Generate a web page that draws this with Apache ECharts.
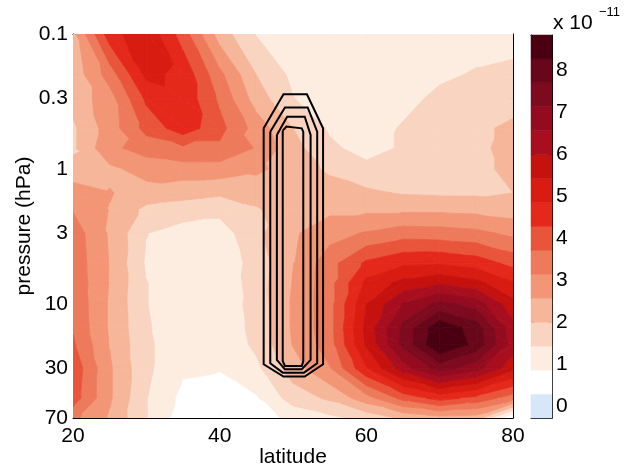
<!DOCTYPE html>
<html>
<head>
<meta charset="utf-8">
<script src="https://cdn.jsdelivr.net/npm/echarts/dist/echarts.min.js"></script>
<style>html,body{margin:0;padding:0;background:#fff}#chart{width:635px;height:470px}</style>
</head>
<body>
<div id="chart"></div>
<script>
// ---------------- data ----------------
const latitudes = [20, 25, 30, 35, 40, 45, 50, 55, 60, 65, 70, 75, 80];
const pressures = [0.1, 0.2, 0.3, 0.5, 0.7, 1, 1.5, 2, 3, 5, 7, 10, 15, 20, 30, 50, 70];

// field values (units of 1e-11), one row per pressure level, columns = latitudes
const row_p0_1 = [2.4, 4.6, 5.3, 4.0, 2.3, 1.4, 1.1, 1.0, 1.0, 1.0, 1.0, 1.1, 1.15];
const row_p0_2 = [2.2, 3.4, 5.0, 4.7, 3.3, 2.0, 1.3, 1.0, 1.0, 1.0, 1.3, 1.5, 1.6];
const row_p0_3 = [2.2, 2.9, 4.4, 4.7, 3.6, 2.3, 1.45, 1.1, 1.0, 1.2, 1.6, 1.7, 1.8];
const row_p0_5 = [1.9, 2.85, 3.9, 4.6, 3.9, 2.9, 2.0, 1.35, 1.1, 1.5, 1.75, 1.9, 2.1];
const row_p0_7 = [1.9, 3.0, 3.4, 3.6, 3.6, 3.1, 2.2, 1.55, 1.2, 1.5, 1.75, 1.9, 2.15];
const row_p1   = [2.2, 2.45, 2.8, 2.9, 2.9, 2.7, 2.3, 1.9, 1.6, 1.7, 1.8, 1.9, 2.1];
const row_p1_5 = [2.85, 2.6, 2.35, 2.2, 2.1, 2.2, 2.3, 2.25, 2.1, 1.95, 1.9, 1.9, 2.0];
const row_p2   = [3.1, 2.55, 1.85, 1.75, 1.6, 1.95, 2.3, 2.45, 2.45, 2.45, 2.45, 2.4, 2.3];
const row_p3   = [3.45, 2.5, 1.45, 1.15, 1.15, 1.85, 2.5, 2.9, 3.2, 3.45, 3.4, 3.3, 3.0];
const row_p5   = [3.5, 2.55, 1.35, 1.0, 1.05, 1.65, 2.55, 3.5, 4.4, 4.75, 4.8, 4.6, 4.1];
const row_p7   = [3.55, 2.55, 1.45, 1.0, 1.0, 1.7, 2.6, 3.5, 5.0, 5.6, 5.9, 5.6, 4.9];
const row_p10  = [3.6, 2.5, 1.45, 1.05, 1.05, 1.65, 2.65, 3.5, 5.4, 6.6, 7.3, 6.9, 5.6];
const row_p15  = [3.65, 2.5, 1.5, 1.05, 1.05, 1.6, 2.65, 3.5, 5.6, 7.3, 8.7, 8.0, 6.2];
const row_p20  = [3.8, 2.55, 1.55, 1.0, 1.0, 1.55, 2.6, 3.45, 5.5, 7.3, 8.85, 8.1, 6.3];
const row_p30  = [4.1, 2.65, 1.55, 0.95, 0.9, 1.3, 2.3, 3.1, 4.8, 6.3, 7.4, 6.8, 5.6];
const row_p50  = [4.0, 2.65, 1.45, 0.7, 0.55, 0.8, 1.7, 2.1, 2.9, 3.9, 4.5, 4.1, 3.4];
const row_p70  = [3.3, 2.5, 1.45, 0.55, 0.5, 0.6, 1.0, 1.3, 1.6, 2.1, 2.4, 2.3, 0.2];
const fieldRows = [row_p0_1, row_p0_2, row_p0_3, row_p0_5, row_p0_7, row_p1, row_p1_5, row_p2,
                   row_p3, row_p5, row_p7, row_p10, row_p15, row_p20, row_p30, row_p50, row_p70];

// contour levels (colorbar band edges) and ticks
const colorLevels = [-0.28, 0.29, 0.86, 1.43, 2.0, 2.57, 3.14, 3.71, 4.28, 4.85, 5.42, 5.99, 6.56, 7.13, 7.70, 8.27, 8.84];
const colorbarTicks = [0, 1, 2, 3, 4, 5, 6, 7, 8];
const yLabelValues = [0.1, 0.3, 1, 3, 10, 30, 70];
const yTickValues = [0.2, 0.3, 0.6, 1, 2, 3, 6, 10, 20, 30, 60];

// black contour lines: [latitude, pressure]
const contour1 = [[46.0, 0.5], [48.7, 0.28], [51.9, 0.28], [54.1, 0.5], [54.1, 28], [51.6, 34.5], [48.7, 34.5], [46.0, 28], [46.0, 0.5]];
const contour2 = [[46.9, 0.53], [48.9, 0.35], [52.0, 0.35], [53.3, 0.53], [53.3, 27.5], [51.5, 32.3], [48.6, 32.3], [46.9, 27.5], [46.9, 0.53]];
const contour3 = [[47.8, 0.56], [49.2, 0.41], [51.6, 0.41], [52.4, 0.56], [52.4, 26], [51.2, 30.5], [48.9, 30.5], [47.8, 26], [47.8, 0.56]];
const contour4 = [[48.6, 0.52], [49.1, 0.485], [51.2, 0.5], [51.4, 0.53], [51.4, 26.5], [51.2, 28.8], [48.9, 28.8], [48.6, 26.5], [48.6, 0.52]];

// ---------------- styles ----------------
const bandColors = ['#d6e8f7', '#ffffff', '#fdede1', '#f9d4c0', '#f6b699', '#f39676', '#ee7a5c', '#e8553b',
                    '#e4281a', '#d91c12', '#c5120f', '#a90e1e', '#940b20', '#7e0a1f', '#68061a', '#4b0012'];
const FONT = "'Liberation Sans', Arial, Helvetica, sans-serif";
const black = '#000';

// ---------------- helpers ----------------
const lg = v => Math.log10(v);
function clipPoly(poly, level, keepAbove) {
  const out = [];
  for (let k = 0; k < poly.length; k++) {
    const a = poly[k], b = poly[(k + 1) % poly.length];
    const ina = keepAbove ? a[2] >= level : a[2] <= level;
    const inb = keepAbove ? b[2] >= level : b[2] <= level;
    if (ina) out.push(a);
    if (ina !== inb) {
      const t = (level - a[2]) / (b[2] - a[2]);
      out.push([a[0] + t * (b[0] - a[0]), a[1] + t * (b[1] - a[1]), level]);
    }
  }
  return out;
}

const cellData = [];
for (let j = 0; j < pressures.length - 1; j++) {
  for (let i = 0; i < latitudes.length - 1; i++) {
    cellData.push([(latitudes[i] + latitudes[i + 1]) / 2, (lg(pressures[j]) + lg(pressures[j + 1])) / 2, i, j]);
  }
}

function renderCell(params, api) {
  const i = api.value(2), j = api.value(3);
  const P = (ii, jj) => [latitudes[ii], lg(pressures[jj]), fieldRows[jj][ii]];
  const A = P(i, j), B = P(i + 1, j), C = P(i + 1, j + 1), D = P(i, j + 1);
  let tris;
  if (Math.abs(A[2] - C[2]) <= Math.abs(B[2] - D[2])) tris = [[A, B, C], [A, C, D]];
  else tris = [[A, B, D], [B, C, D]];
  const children = [];
  const nb = bandColors.length;
  tris.forEach(tri => {
    for (let k = 0; k < nb; k++) {
      let poly = tri;
      if (k > 0) poly = clipPoly(poly, colorLevels[k], true);
      if (poly.length >= 3 && k < nb - 1) poly = clipPoly(poly, colorLevels[k + 1], false);
      if (poly.length >= 3) {
        const pts = poly.map(p => api.coord([p[0], p[1]]));
        children.push({
          type: 'polygon', shape: { points: pts },
          style: { fill: bandColors[k], stroke: bandColors[k], lineWidth: 0.8 }
        });
      }
    }
  });
  return { type: 'group', children: children };
}

const barData = [];
for (let k = 0; k < bandColors.length; k++) barData.push([0.5, (colorLevels[k] + colorLevels[k + 1]) / 2, colorLevels[k], colorLevels[k + 1], k]);
function renderBand(params, api) {
  const lo = api.value(2), hi = api.value(3), k = api.value(4);
  const p1 = api.coord([0, lo]), p2 = api.coord([1, hi]);
  return {
    type: 'rect',
    shape: { x: p1[0], y: p2[1], width: p2[0] - p1[0], height: p1[1] - p2[1] },
    style: { fill: bandColors[k], stroke: bandColors[k], lineWidth: 0.5 }
  };
}

const axisLine = { show: true, onZero: false, lineStyle: { color: black, width: 1 } };
const labelStyle = { color: black, fontSize: 21, fontFamily: FONT };
const fmtP = v => { const m = yLabelValues.find(p => Math.abs(lg(p) - v) < 1e-6); return m === undefined ? '' : String(m); };

const contourSeries = [contour1, contour2, contour3, contour4].map(c => ({
  type: 'line', xAxisIndex: 0, yAxisIndex: 0, z: 5, silent: true,
  data: c.map(p => [p[0], lg(p[1])]),
  symbol: 'none', smooth: false,
  lineStyle: { color: black, width: 2, join: 'miter' }
}));

const option = {
  animation: false,
  backgroundColor: '#fff',
  grid: [
    { left: 73, right: 122, top: 34, bottom: 52, outerBoundsMode: 'none', containLabel: false },
    { left: 531, right: 83, top: 35, bottom: 52, outerBoundsMode: 'none', containLabel: false }
  ],
  xAxis: [
    { gridIndex: 0, type: 'value', min: 20, max: 80, interval: 20, position: 'bottom',
      axisLine, splitLine: { show: false },
      axisTick: { inside: true, length: 5, lineStyle: { color: black } },
      axisLabel: Object.assign({ margin: 8 }, labelStyle),
      name: 'latitude', nameLocation: 'middle', nameGap: 29, nameMoveOverlap: false,
      nameTextStyle: { color: black, fontSize: 21, fontFamily: FONT } },
    { gridIndex: 0, type: 'value', min: 20, max: 80, interval: 20, position: 'top',
      axisLine, splitLine: { show: false },
      axisTick: { inside: true, length: 5, lineStyle: { color: black } },
      axisLabel: { show: false } },
    { gridIndex: 1, type: 'value', min: 0, max: 1, position: 'bottom', axisLine,
      splitLine: { show: false }, axisTick: { show: false }, axisLabel: { show: false } },
    { gridIndex: 1, type: 'value', min: 0, max: 1, position: 'top', axisLine,
      splitLine: { show: false }, axisTick: { show: false }, axisLabel: { show: false } }
  ],
  yAxis: [
    { gridIndex: 0, type: 'value', min: -1, max: lg(70), inverse: true, position: 'left',
      axisLine, splitLine: { show: false },
      axisTick: { inside: true, length: 5, customValues: yTickValues.map(lg), lineStyle: { color: black } },
      axisLabel: Object.assign({ margin: 5, customValues: yLabelValues.map(lg), formatter: fmtP }, labelStyle),
      name: 'pressure (hPa)', nameLocation: 'middle', nameGap: 38, nameRotate: 90, nameMoveOverlap: false,
      nameTextStyle: { color: black, fontSize: 21, fontFamily: FONT } },
    { gridIndex: 0, type: 'value', min: -1, max: lg(70), inverse: true, position: 'right',
      axisLine, splitLine: { show: false },
      axisTick: { inside: true, length: 5, customValues: yTickValues.map(lg), lineStyle: { color: black } },
      axisLabel: { show: false } },
    { gridIndex: 1, type: 'value', min: colorLevels[0], max: colorLevels[colorLevels.length - 1], position: 'right',
      axisLine, splitLine: { show: false },
      axisTick: { inside: true, length: 4, customValues: colorbarTicks, lineStyle: { color: black } },
      axisLabel: Object.assign({ margin: 4, customValues: colorbarTicks }, labelStyle) },
    { gridIndex: 1, type: 'value', min: colorLevels[0], max: colorLevels[colorLevels.length - 1], position: 'left',
      axisLine, splitLine: { show: false },
      axisTick: { inside: true, length: 4, customValues: colorbarTicks, lineStyle: { color: black } },
      axisLabel: { show: false } }
  ],
  graphic: [
    { type: 'text', x: 553, y: 23, silent: true,
      style: { text: 'x 10', fill: black, font: '21px ' + FONT, verticalAlign: 'middle', align: 'left' } },
    { type: 'text', x: 599, y: 12, silent: true,
      style: { text: '\u221211', fill: black, font: '13px ' + FONT, verticalAlign: 'middle', align: 'left' } }
  ],
  series: [
    { type: 'custom', xAxisIndex: 0, yAxisIndex: 0, z: 1, silent: true, clip: true,
      renderItem: renderCell, encode: { x: 0, y: 1 }, data: cellData },
    { type: 'custom', xAxisIndex: 2, yAxisIndex: 2, z: 1, silent: true,
      renderItem: renderBand, encode: { x: 0, y: 1 }, data: barData }
  ].concat(contourSeries)
};

const chart = echarts.init(document.getElementById('chart'), null, { renderer: 'canvas' });
chart.setOption(option);
</script>
</body>
</html>
